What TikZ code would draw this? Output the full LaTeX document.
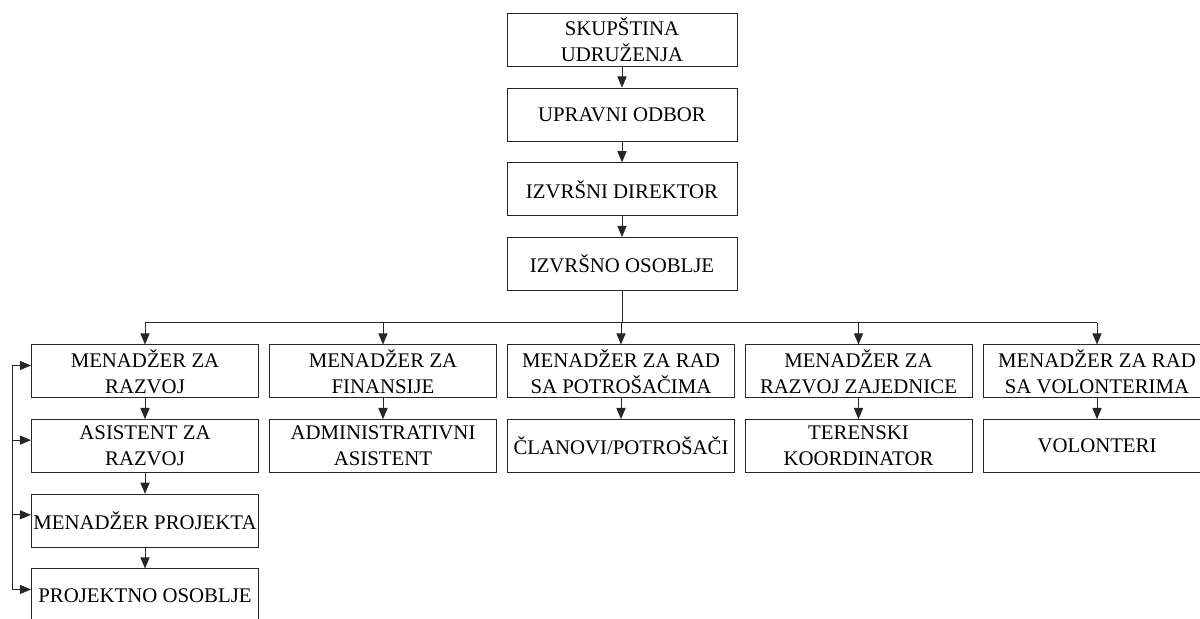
\documentclass[tikz,border=0pt]{standalone}
\usepackage{fontspec}
\setmainfont{Liberation Serif}
\usetikzlibrary{arrows.meta,positioning}
\tikzset{
  box/.style={draw,rectangle,minimum width=113.5pt,minimum height=26.5pt,inner sep=1pt,align=center,
    font=\fontsize{10.4}{13}\selectfont}
}
\begin{document}
\begin{tikzpicture}[x=0.5pt,y=-0.5pt,>={Triangle[width=4.6pt,length=5.6pt]},line width=0.5pt,draw=black!85,node distance=37.33pt]
    \useasboundingbox (0,0) rectangle (1200,619);
    \node[box,minimum width=115pt] (su) at (622,40) {SKUPŠTINA\\UDRUŽENJA};
    \node[box,minimum width=115pt] (uo) [below of=su] {UPRAVNI ODBOR};
    \node[box,minimum width=115pt] (id) [below of=uo] {IZVRŠNI DIREKTOR};
    \node[box,minimum width=115pt] (io) [below of=id] {IZVRŠNO OSOBLJE};
    \node[box] (mr) at (145,371.5) {MENADŽER ZA\\RAZVOJ};
    \node[box] (ar) [below of=mr] {ASISTENT ZA\\RAZVOJ};
    \node[box] (mp) [below of=ar] {MENADŽER PROJEKTA};
    \node[box] (po) [below of=mp] {PROJEKTNO OSOBLJE};
    \node[box] (mf) at (383,371.5) {MENADŽER ZA\\FINANSIJE};
    \node[box] (aa) [below of=mf] {ADMINISTRATIVNI\\ASISTENT};
    \node[box] (mrp) at (621,371.5) {MENADŽER ZA RAD\\SA POTROŠAČIMA};
    \node[box] (cp) [below of=mrp] {ČLANOVI/POTROŠAČI};
    \node[box] (mz) at (858.5,371.5) {MENADŽER ZA\\RAZVOJ ZAJEDNICE};
    \node[box] (tk) [below of=mz] {TERENSKI\\KOORDINATOR};
    \node[box] (mv) at (1097,371.5) {MENADŽER ZA RAD\\SA VOLONTERIMA};
    \node[box] (vo) [below of=mv] {VOLONTERI};
    \coordinate (busL) at (145,323);
    \coordinate (busR) at (1097,323);
    \coordinate (fb) at (12,365);
    \foreach \a/\b in {su/uo,uo/id,id/io,mr/ar,ar/mp,mp/po,mf/aa,mrp/cp,mz/tk,mv/vo}
        \draw[->] (\a.south) -- (\b.north);
    \draw (io.south) -- (io.south |- busL);
    \draw (busL) -- (busR);
    \foreach \n in {mr,mf,mrp,mz,mv}
        \draw[->] (\n.north |- busL) -- (\n.north);
    \foreach \n in {mr,ar,mp,po}
        \draw[->] (fb) |- ([yshift=3pt]\n.west);
\end{tikzpicture}
\end{document}
